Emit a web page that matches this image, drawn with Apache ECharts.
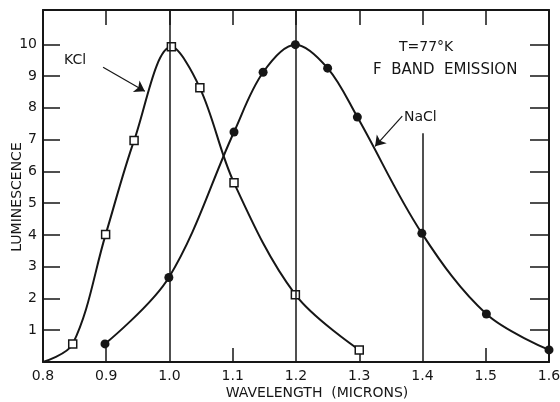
<!DOCTYPE html>
<html>
<head>
<meta charset="utf-8">
<script src="https://cdn.jsdelivr.net/npm/echarts@6/dist/echarts.min.js"></script>
<style>
html, body { margin: 0; padding: 0; background: #fff; }
#echarts { width: 560px; height: 402px; }
</style>
</head>
<body>
<div id="echarts"></div>
<script>
// KCl (open squares), first point is the curve start without marker
var kclX = [0.800, 0.847, 0.899, 0.944, 1.003, 1.048, 1.102, 1.199, 1.300];
var kclY = [0.00, 0.57, 4.01, 6.97, 9.92, 8.63, 5.64, 2.12, 0.38];
// NaCl (filled circles)
var naclX = [0.898, 0.999, 1.102, 1.148, 1.199, 1.250, 1.297, 1.399, 1.501, 1.600];
var naclY = [0.57, 2.66, 7.24, 9.12, 9.99, 9.25, 7.71, 4.05, 1.51, 0.38];

var xLabels = [0.8, 0.9, 1.0, 1.1, 1.2, 1.3, 1.4, 1.5, 1.6];
var xTicksBottom = [0.9, 1.1, 1.3, 1.5];
var xTicksTop = [0.9, 1.0, 1.1, 1.2, 1.3, 1.4, 1.5];
var yLabels = [1, 2, 3, 4, 5, 6, 7, 8, 9, 10];
var yMax = 11.08;

var ink = '#161616';
var font = 'DejaVu Sans';

var kclData = [];
for (var i = 0; i < kclX.length; i++) {
  var item = { value: [kclX[i], kclY[i]] };
  if (i == 0) item.symbol = 'none';
  kclData.push(item);
}
var naclData = [];
for (var i = 0; i < naclX.length; i++) {
  naclData.push([naclX[i], naclY[i]]);
}

var chart = echarts.init(document.getElementById('echarts'));

var xBase = {
  type: 'value', min: 0.8, max: 1.6,
  splitLine: { show: false },
  axisLine: { onZero: false, lineStyle: { color: ink, width: 2 } }
};
var yBase = {
  type: 'value', min: 0, max: yMax,
  splitLine: { show: false },
  axisLine: { show: true, onZero: false, lineStyle: { color: ink, width: 2 } }
};

chart.setOption({
  animation: false,
  grid: { left: 43, right: 11, top: 10, bottom: 40, containLabel: false, outerBoundsMode: 'none' },
  xAxis: [
    Object.assign({}, xBase, {
      position: 'bottom',
      axisTick: { inside: true, length: 14, customValues: xTicksBottom, lineStyle: { color: ink, width: 1.5 } },
      axisLabel: {
        customValues: xLabels, margin: 7, color: ink, fontFamily: font, fontSize: 14,
        formatter: function (v) { return v.toFixed(1); }
      },
      name: 'WAVELENGTH  (MICRONS)', nameLocation: 'middle', nameGap: 24, nameMoveOverlap: false,
      nameTextStyle: { color: ink, fontFamily: font, fontSize: 14, padding: [0, 0, 0, 42] }
    }),
    Object.assign({}, xBase, {
      position: 'top',
      axisTick: { inside: true, length: 15, customValues: xTicksTop, lineStyle: { color: ink, width: 1.5 } },
      axisLabel: { show: false }
    })
  ],
  yAxis: [
    Object.assign({}, yBase, {
      position: 'left',
      axisTick: { inside: true, length: 17, customValues: yLabels, lineStyle: { color: ink, width: 1.5 } },
      axisLabel: { customValues: yLabels, margin: 6, color: ink, fontFamily: font, fontSize: 14 },
      name: 'LUMINESCENCE', nameLocation: 'middle', nameGap: 19, nameMoveOverlap: false,
      nameTextStyle: { color: ink, fontFamily: font, fontSize: 14, padding: [0, 22, 0, 0] }
    }),
    Object.assign({}, yBase, {
      position: 'right',
      axisTick: { inside: true, length: 19, customValues: yLabels, lineStyle: { color: ink, width: 1.5 } },
      axisLabel: { show: false }
    })
  ],
  graphic: [
    { type: 'text', left: 64, top: 53, style: { text: 'KCl', fill: ink, font: '14px "DejaVu Sans"' } },
    { type: 'text', left: 404, top: 110, style: { text: 'NaCl', fill: ink, font: '14px "DejaVu Sans"' } },
    { type: 'text', left: 399, top: 40, style: { text: 'T=77°K', fill: ink, font: '14px "DejaVu Sans"' } },
    { type: 'text', left: 373, top: 63, style: { text: 'F  BAND  EMISSION', fill: ink, font: '15px "DejaVu Sans"' } }
  ],
  series: [
    {
      name: 'KCl',
      type: 'line',
      data: kclData,
      smooth: 0.35,
      symbol: 'rect',
      symbolSize: 8,
      lineStyle: { color: ink, width: 2 },
      itemStyle: { color: '#fff', borderColor: ink, borderWidth: 1.5 },
      z: 3,
      markLine: {
        silent: true,
        symbol: ['none', 'none'],
        label: { show: false },
        lineStyle: { color: ink, width: 1.5, type: 'solid' },
        data: [
          [{ coord: [1.0, 0] }, { coord: [1.0, yMax] }],
          [{ coord: [1.2, 0] }, { coord: [1.2, yMax] }],
          [{ coord: [1.4, 0] }, { coord: [1.4, 7.2] }]
        ]
      }
    },
    {
      name: 'NaCl',
      type: 'line',
      data: naclData,
      smooth: 0.35,
      symbol: 'circle',
      symbolSize: 9,
      lineStyle: { color: ink, width: 2 },
      itemStyle: { color: ink },
      z: 3,
      markLine: {
        silent: true,
        symbol: ['none', 'arrow'],
        symbolSize: 10,
        label: { show: false },
        lineStyle: { color: ink, width: 1.2, type: 'solid' },
        data: [
          [{ coord: [0.895, 9.28] }, { coord: [0.961, 8.52] }],
          [{ coord: [1.368, 7.74] }, { coord: [1.325, 6.79] }]
        ]
      }
    }
  ]
});
</script>
</body>
</html>
